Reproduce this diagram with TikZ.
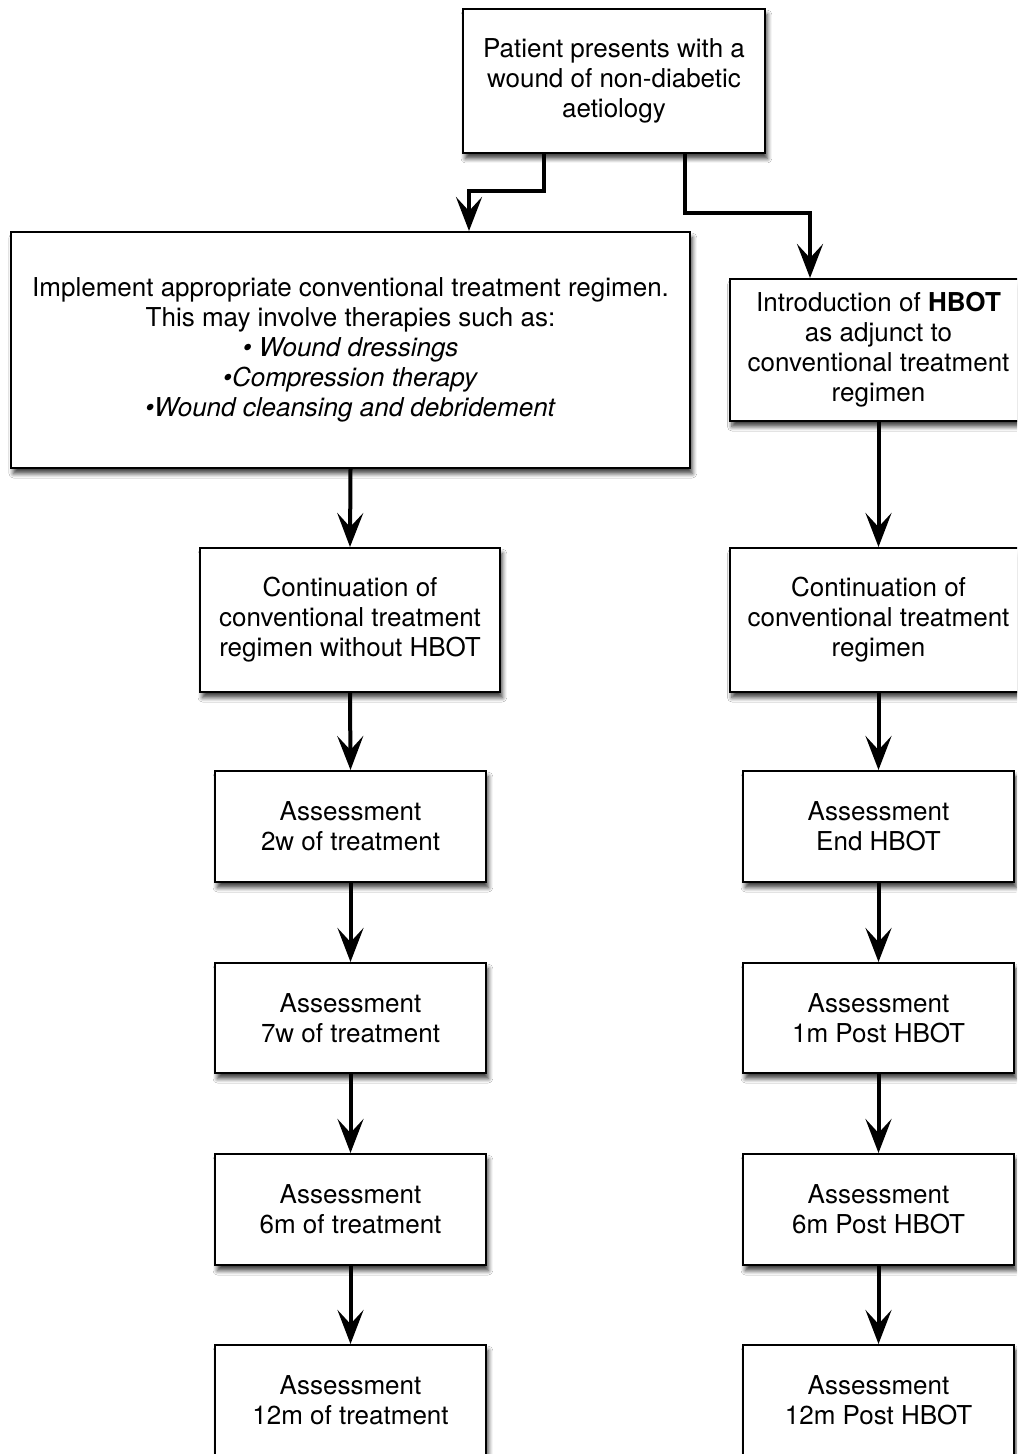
\documentclass[tikz,border=0pt]{standalone}
\usepackage{fontspec}
\setmainfont{TeX Gyre Heros}
\usetikzlibrary{arrows.meta,shadows.blur}
\begin{document}
\begin{tikzpicture}[x=0.5pt,y=-0.5pt,
  box/.style={draw=black, line width=1pt, fill=white, align=center, inner sep=0pt,
    font=\fontsize{13}{15}\selectfont,
    blur shadow={shadow xshift=1.2pt, shadow yshift=-2.8pt, shadow blur steps=6, shadow blur radius=2.2pt, shadow opacity=75}},
  arr/.style={line width=2pt, -{Stealth[length=17pt, width=13pt, inset=7pt]}}
]
\useasboundingbox (0,0) rectangle (1017,1454);
\clip (0,0) rectangle (1017,1454);
\fill[white] (0,0) rectangle (1017,1454);

\node[box, minimum width=151pt, minimum height=72pt] (top) at (614,81)
  {Patient presents with a\\wound of non-diabetic\\aetiology};
\node[box, minimum width=339.5pt, minimum height=118pt] (impl) at (350.5,350)
  {Implement appropriate conventional treatment regimen.\\
   This may involve therapies such as:\\
   \textit{• Wound dressings}\\
   \textit{•Compression therapy}\\
   \textit{•Wound cleansing and debridement}};
\node[box, minimum width=149pt, minimum height=71pt] (hbot) at (878.5,350)
  {Introduction of \textbf{HBOT}\\as adjunct to\\conventional treatment\\regimen};
\node[box, minimum width=150pt, minimum height=72pt] (contL) at (350,620)
  {Continuation of\\conventional treatment\\regimen without HBOT};
\node[box, minimum width=149pt, minimum height=72pt] (contR) at (878.5,620)
  {Continuation of\\conventional treatment\\regimen};

\node[box, minimum width=135.5pt, minimum height=55.5pt] (aL1) at (350.5,826.5) {Assessment\\2w of treatment};
\node[box, minimum width=135.5pt, minimum height=55pt] (aL2) at (350.5,1018) {Assessment\\7w of treatment};
\node[box, minimum width=135.5pt, minimum height=55.5pt] (aL3) at (350.5,1209.5) {Assessment\\6m of treatment};
\node[box, minimum width=135.5pt, minimum height=55.5pt] (aL4) at (350.5,1400.5) {Assessment\\12m of treatment};

\node[box, minimum width=135.5pt, minimum height=55.5pt] (aR1) at (878.5,826.5) {Assessment\\End HBOT};
\node[box, minimum width=135.5pt, minimum height=55pt] (aR2) at (878.5,1018) {Assessment\\1m Post HBOT};
\node[box, minimum width=135.5pt, minimum height=55.5pt] (aR3) at (878.5,1209.5) {Assessment\\6m Post HBOT};
\node[box, minimum width=135.5pt, minimum height=55.5pt] (aR4) at (878.5,1400.5) {Assessment\\12m Post HBOT};

\draw[arr] ([xshift=-35pt]top.south) -- ++(0,37) -| ([xshift=59.25pt]impl.north);
\draw[arr] ([xshift=35.5pt]top.south) -- ++(0,59) -| ([xshift=-34.25pt]hbot.north);

\draw[arr] (impl.south) -- (contL.north);
\draw[arr] (contL.south) -- (aL1.north);
\draw[arr] (aL1.south) -- (aL2.north);
\draw[arr] (aL2.south) -- (aL3.north);
\draw[arr] (aL3.south) -- (aL4.north);

\draw[arr] (hbot.south) -- (contR.north);
\draw[arr] (contR.south) -- (aR1.north);
\draw[arr] (aR1.south) -- (aR2.north);
\draw[arr] (aR2.south) -- (aR3.north);
\draw[arr] (aR3.south) -- (aR4.north);
\end{tikzpicture}
\end{document}
